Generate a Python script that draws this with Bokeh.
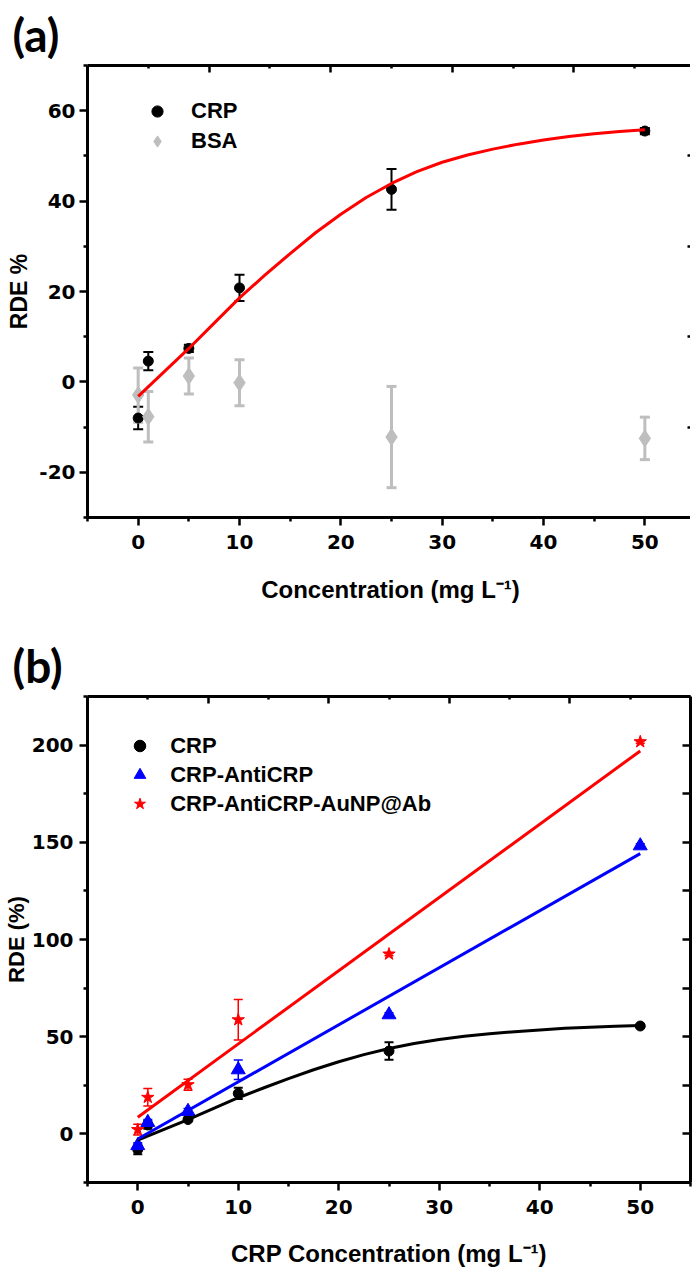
import numpy as np
from bokeh.plotting import figure
from bokeh.models import (ColumnDataSource, Whisker, TeeHead, FixedTicker,
                          LinearAxis, Range1d, Legend, LegendItem, Title,
                          PrintfTickFormatter)
from bokeh.layouts import column
from bokeh.embed import file_html
from bokeh.resources import INLINE

# ---------------- data ----------------
conc = [0, 1, 5, 10, 25, 50]
crp_rde = [-8.0, 4.6, 7.4, 20.8, 42.6, 55.5]
crp_err = [2.5, 2.0, 0.8, 2.9, 4.5, 0.7]
bsa_rde = [-2.9, -7.7, 1.3, -0.2, -12.2, -12.5]
bsa_err = [6.0, 5.6, 4.0, 5.1, 11.2, 4.7]
anti_rde = [-6.0, 5.9, 11.6, 33.0, 61.3, 148.2]
anti_err = [1.5, 1.5, 1.5, 5.0, 1.0, 1.0]
au_rde = [2.2, 18.8, 25.3, 58.7, 92.5, 201.7]
au_err = [2.8, 4.5, 2.8, 10.4, 0.8, 0.8]

crp_fit_x = [0, 2.5, 5, 7.5, 10, 12.5, 15, 17.5, 20, 22.5, 25, 27.5, 30,
             32.5, 35, 37.5, 40, 42.5, 45, 47.5, 50]
crp_fit_y = [-3.2, 2.1, 7.4, 13.0, 18.6, 23.6, 28.4, 33.0, 37.1, 40.8, 43.9,
             46.5, 48.6, 50.2, 51.5, 52.6, 53.5, 54.3, 54.9, 55.4, 55.8]
anti_fit_x = [0, 50]
anti_fit_y = [-2.6, 144.2]
au_fit_x = [0, 50]
au_fit_y = [8.6, 197.0]

x_major = [0, 10, 20, 30, 40, 50]
x_minor = [-5, 5, 15, 25, 35, 45, 55]
top_major = [10, 20, 30, 40]
top_minor = [5, 15, 25, 35, 45]

TFONT = "Liberation Sans"
NFONT = "DejaVu Sans"
GRAY = "#BEBEBE"


def src(y, e):
    return ColumnDataSource(dict(x=conc, y=y,
                                 lo=[a - b for a, b in zip(y, e)],
                                 hi=[a + b for a, b in zip(y, e)]))


def whisker(p, s, color, lw, head):
    p.add_layout(Whisker(source=s, base="x", upper="hi", lower="lo",
                         line_color=color, line_width=lw,
                         upper_head=TeeHead(size=head, line_color=color, line_width=lw),
                         lower_head=TeeHead(size=head, line_color=color, line_width=lw)))


def style_main_axis(ax, ticks, minors, label, lstand, tstand, lsize):
    ax.ticker = FixedTicker(ticks=ticks, minor_ticks=minors)
    ax.formatter = PrintfTickFormatter(format="%d")
    ax.axis_line_width = 3
    ax.axis_line_color = "black"
    ax.major_tick_line_width = 2.5
    ax.minor_tick_line_width = 2.5
    ax.major_tick_out = 8
    ax.major_tick_in = 0
    ax.minor_tick_out = 4
    ax.minor_tick_in = 0
    ax.major_label_text_font = NFONT
    ax.major_label_text_font_style = "bold"
    ax.major_label_text_font_size = "20px"
    ax.major_label_text_color = "black"
    ax.major_label_standoff = tstand
    ax.axis_label = label
    ax.axis_label_text_font = TFONT
    ax.axis_label_text_font_style = "bold"
    ax.axis_label_text_font_size = lsize
    ax.axis_label_text_color = "black"
    ax.axis_label_standoff = lstand


def twin_axis(ticks, minors, tin, line=True, **kw):
    ax = LinearAxis(ticker=FixedTicker(ticks=ticks, minor_ticks=minors), **kw)
    ax.major_label_text_font_size = "0px"
    ax.major_label_text_color = None
    ax.major_label_standoff = 0
    ax.major_tick_in = tin
    ax.major_tick_out = 0
    ax.minor_tick_in = 3
    ax.minor_tick_out = 0
    ax.major_tick_line_width = 2.5
    ax.minor_tick_line_width = 2.5
    if line:
        ax.axis_line_width = 3
        ax.axis_line_color = "black"
    else:
        ax.axis_line_color = None
    return ax


def make_fig(fw, fh, xr, yr, top_end, borders, tag):
    p = figure(frame_width=fw, frame_height=fh, x_range=xr, y_range=yr,
               output_backend="svg", toolbar_location=None,
               min_border_left=borders[0], min_border_right=borders[1],
               min_border_top=borders[2], min_border_bottom=borders[3])
    p.title = Title(text=tag, align="left", offset=-75, standoff=7,
                    text_font="Lato", text_font_style="bold",
                    text_font_size="46px", text_color="black")
    p.outline_line_color = None
    p.xgrid.visible = False
    p.ygrid.visible = False
    p.background_fill_color = "white"
    p.border_fill_color = "white"
    p.extra_x_ranges = {"top": Range1d(0, top_end)}
    return p


# ---------------- panel (a) ----------------
pa = make_fig(606, 452, Range1d(-5, 54.8), Range1d(-30, 70), (54.8 + 5) / 1.2,
              (82, 0, 65, 105), "(a)")
style_main_axis(pa.xaxis[0], x_major, x_minor, "Concentration (mg L\u207b\u00b9)", 24, 9, "24px")
style_main_axis(pa.yaxis[0], [-20, 0, 20, 40, 60], [-30, -10, 10, 30, 50, 70],
                "RDE %", 4, 4, "23px")
pa.add_layout(twin_axis(top_major, top_minor, 7, x_range_name="top"), "above")
pa.add_layout(twin_axis([-10, 10, 30, 50], [-20, 0, 20, 40, 60], 6, line=False), "right")

s_crp = src(crp_rde, crp_err)
s_bsa = src(bsa_rde, bsa_err)
whisker(pa, s_crp, "black", 2, 10)
whisker(pa, s_bsa, GRAY, 3, 10)
r_crp_a = pa.scatter("x", "y", source=s_crp, marker="circle", size=10,
                     fill_color="black", line_color="black")
r_bsa = pa.scatter("x", "y", source=s_bsa, marker="diamond", size=17,
                   fill_color=GRAY, line_color=GRAY)
pa.line(crp_fit_x, crp_fit_y, line_color="#FF0000", line_width=3, line_join="round")

leg_a = Legend(items=[LegendItem(label="CRP", renderers=[r_crp_a]),
                      LegendItem(label="BSA", renderers=[r_bsa])],
               location=(59, 361), glyph_width=28, glyph_height=30, label_height=30,
               spacing=0, padding=0, margin=0, label_standoff=20,
               border_line_color=None, background_fill_alpha=0,
               label_text_font=TFONT, label_text_font_style="bold",
               label_text_font_size="22px", label_text_color="black")
pa.add_layout(leg_a)

# ---------------- panel (b) ----------------
pb = make_fig(603, 486, Range1d(-5, 55), Range1d(-25, 225), 50.0, (82, 3, 74, 92), "(b)")
style_main_axis(pb.xaxis[0], x_major, x_minor, "CRP Concentration (mg L\u207b\u00b9)", 23, 9, "24px")
style_main_axis(pb.yaxis[0], [0, 50, 100, 150, 200], [-25, 25, 75, 125, 175, 225],
                "RDE (%)", 0, 6, "22px")
pb.add_layout(twin_axis(top_major, top_minor, 7, x_range_name="top"), "above")
pb.add_layout(twin_axis([-25, 0, 25, 50, 75, 100, 125, 150, 175, 200, 225], [], 8), "right")

s_crp_b = src(crp_rde, crp_err)
s_anti = src(anti_rde, anti_err)
s_au = src(au_rde, au_err)
whisker(pb, s_crp_b, "black", 2, 9)
whisker(pb, s_anti, "#0000FF", 1.5, 9)
whisker(pb, s_au, "#FF0000", 1.5, 9)
r_crp_b = pb.scatter("x", "y", source=s_crp_b, marker="circle", size=10,
                     fill_color="black", line_color="black")
r_anti = pb.scatter("x", "y", source=s_anti, marker="triangle", size=14,
                    fill_color="#0000FF", line_color="#0000FF")
r_au = pb.scatter("x", "y", source=s_au, marker="star", size=13,
                  fill_color="#FF0000", line_color="#FF0000")
pb.line(crp_fit_x, crp_fit_y, line_color="black", line_width=3, line_join="round")
pb.line(anti_fit_x, anti_fit_y, line_color="#0000FF", line_width=3)
pb.line(au_fit_x, au_fit_y, line_color="#FF0000", line_width=3)

leg_b = Legend(items=[LegendItem(label="CRP", renderers=[r_crp_b]),
                      LegendItem(label="CRP-AntiCRP", renderers=[r_anti]),
                      LegendItem(label="CRP-AntiCRP-AuNP@Ab", renderers=[r_au])],
               location=(38.2, 363.8), glyph_width=29, glyph_height=29, label_height=29,
               spacing=0, padding=0, margin=0, label_standoff=16,
               border_line_color=None, background_fill_alpha=0,
               label_text_font=TFONT, label_text_font_style="bold",
               label_text_font_size="22px", label_text_color="black")
pb.add_layout(leg_b)

layout = column(pa, pb, spacing=0)
open("out.html", "w").write(file_html(layout, INLINE))
